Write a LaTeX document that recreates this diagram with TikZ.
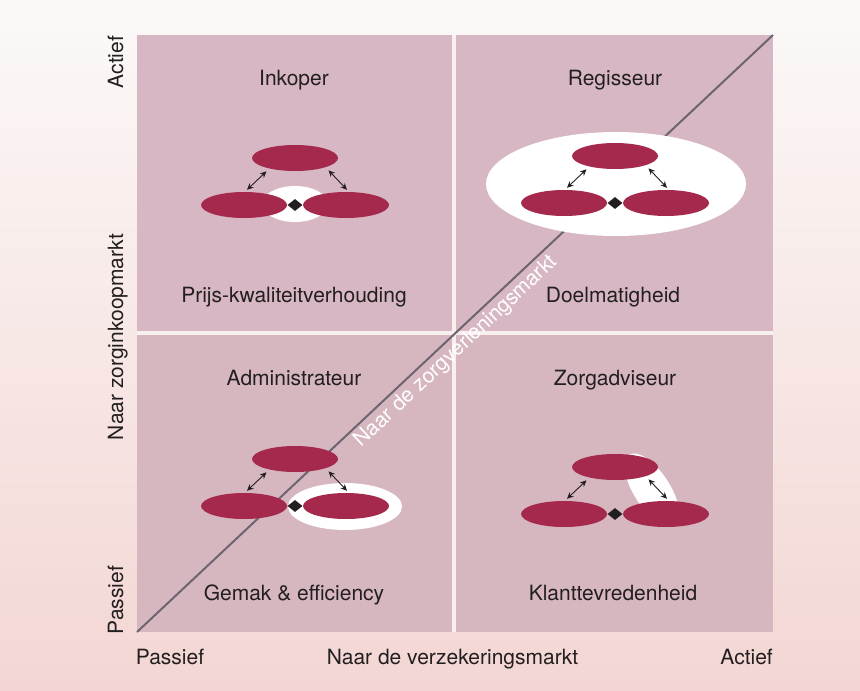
\documentclass[tikz,border=0pt]{standalone}
\usepackage{fontspec}
\setmainfont{TeX Gyre Heros}
\usetikzlibrary{shapes.geometric,arrows.meta,calc}
\definecolor{bgtop}{HTML}{FBF9F8}
\definecolor{bgbot}{HTML}{F3D6D3}
\definecolor{panel}{HTML}{D7B7C4}
\definecolor{panelb}{HTML}{D6B7C0}
\definecolor{crimson}{HTML}{A4294D}
\definecolor{ink}{HTML}{231F20}
\definecolor{axisline}{HTML}{6E6470}
\definecolor{divider}{HTML}{F9EFEE}

\tikzset{
  partner/.style={ellipse, fill=crimson, minimum width=86pt, minimum height=26pt, inner sep=0pt},
  link/.style={diamond, fill=ink, minimum width=15pt, minimum height=12pt, inner sep=0pt},
  dbl/.style={draw=ink, line width=0.9pt, {Stealth[length=6.5pt,width=6pt]}-{Stealth[length=6.5pt,width=6pt]}},
  lbl/.style={text=ink, font=\fontsize{21}{25}\selectfont, anchor=base, inner sep=0pt},
  diag/.style={draw=axisline, line width=2pt},
  halo/.style={fill=white},
}

% three partners around a diamond: #1 name prefix, #2/#3 position of the diamond
\newcommand\egotrio[3]{%
  \node[partner] (#1T) at (#2,#3-47) {};
  \node[partner] (#1L) at (#2-51,#3) {};
  \node[partner] (#1R) at (#2+51,#3) {};
  \node[link] (#1D) at (#2,#3) {};
  \draw[dbl] ($(#1L.north)+(3,-2)$) -- ($(#1T.south west)+(2,4)$);
  \draw[dbl] ($(#1T.south east)+(3,3)$) -- ($(#1R.north)+(1,-2)$);
}

\begin{document}
\begin{tikzpicture}[x=1pt,y=-1pt]
  \useasboundingbox (0,0) rectangle (860,691);
  \shade[top color=bgtop, bottom color=bgbot] (0,0) rectangle (860,691);

  % quadrants
  \fill[panel]  (137,35)  rectangle (452,331);
  \fill[panel]  (456,35)  rectangle (773,331);
  \fill[panelb] (137,335) rectangle (452,632);
  \fill[panelb] (456,335) rectangle (773,632);
  \fill[divider] (452,35) rectangle (456,632);
  \fill[divider] (137,331) rectangle (773,335);

  % diagonal axis
  \coordinate (lo) at (137,632);
  \coordinate (hi) at (773,35);
  \draw[diag] (lo) -- (hi)
    node[pos=0.487, sloped, below=3pt, text=white, font=\fontsize{21}{25}\selectfont, inner sep=0pt] (diaglabel) {Naar de zorgverleningsmarkt};

  % white areas behind the partners
  \fill[halo] (295,204) ellipse [x radius=33, y radius=18];
  \fill[halo] (616,184) ellipse [x radius=130, y radius=52];
  \fill[halo] (345,506.5) ellipse [x radius=57, y radius=23.5];
  \fill[halo, rotate around={-57:(652,490)}] (652,490) ellipse [x radius=42, y radius=18];

  \egotrio{tl}{295}{205}
  \egotrio{tr}{615}{203}
  \egotrio{bl}{295}{506}
  \egotrio{br}{615}{514}

  % quadrant texts
  \node[lbl] (t1) at (294,85)  {Inkoper};
  \node[lbl] (t2) at (615,85)  {Regisseur};
  \node[lbl] (t3) at (294,302) {Prijs-kwaliteitverhouding};
  \node[lbl] (t4) at (613,302) {Doelmatigheid};
  \node[lbl] (t5) at (294,385) {Administrateur};
  \node[lbl] (t6) at (615,385) {Zorgadviseur};
  \node[lbl] (t7) at (294,600) {Gemak \& efficiency};
  \node[lbl] (t8) at (613,600) {Klanttevredenheid};

  % axis texts
  \node[lbl] (xa) at (170,664) {Passief};
  \node[lbl] (xb) at (452.5,664) {Naar de verzekeringsmarkt};
  \node[lbl, anchor=base east] (xc) at (773,664) {Actief};
  \node[lbl, rotate=90] (ya) at (123,62)  {Actief};
  \node[lbl, rotate=90] (yb) at (123,337) {Naar zorginkoopmarkt};
  \node[lbl, rotate=90] (yc) at (123,600) {Passief};
\end{tikzpicture}
\end{document}
